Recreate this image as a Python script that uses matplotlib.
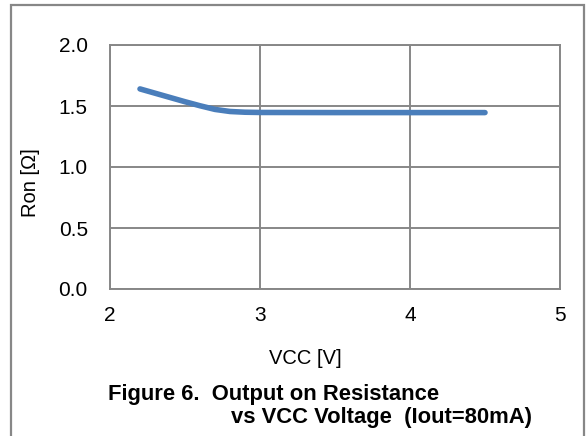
import matplotlib
matplotlib.use("Agg")
import matplotlib.pyplot as plt
from matplotlib.patches import Rectangle

vcc = [2.2, 2.3, 2.4, 2.5, 2.6, 2.7, 2.8, 2.9, 3.0, 3.5, 4.0, 4.5]
ron = [1.64, 1.605, 1.57, 1.535, 1.502, 1.472, 1.455, 1.449, 1.447, 1.446, 1.446, 1.446]
xticks = [2, 3, 4, 5]
yticks = [0.0, 0.5, 1.0, 1.5, 2.0]

plt.rcParams['font.family'] = ['Liberation Sans', 'DejaVu Sans']
W, H = 587, 436
fig = plt.figure(figsize=(W/100, H/100), dpi=100)

# outer frame
fig.patches.append(Rectangle((10.5/W, -0.05), (584-10.5)/W, (H-5.5)/H + 0.05,
                             transform=fig.transFigure, fill=False,
                             edgecolor='#878787', linewidth=1.6, zorder=0))

ax = fig.add_axes([110/W, 1-289/H, (560-110)/W, (289-45)/H])
grid_c = '#878787'
ax.plot(vcc, ron, color='#4a7ebb', linewidth=4, solid_capstyle='round',
        solid_joinstyle='round', zorder=3)
ax.set_xlim(2, 5)
ax.set_ylim(0, 2.0)
ax.set_xticks(xticks)
ax.set_yticks(yticks)
ax.set_xticklabels([str(t) for t in xticks])
ax.set_yticklabels([f"{t:.1f}" for t in yticks])
ax.grid(True, color=grid_c, linewidth=1.4)
ax.set_axisbelow(True)
for s in ax.spines.values():
    s.set_color(grid_c)
    s.set_linewidth(1.4)
ax.tick_params(length=0, labelsize=15)
ax.tick_params(axis='y', pad=16)
ax.tick_params(axis='x', pad=12)
ax.set_xlabel('VCC [V]', fontsize=14.5, va='center', ha='center')
ax.xaxis.set_label_coords(305/W, 1-358/H, transform=fig.transFigure)
ax.set_ylabel('Ron [Ω]', fontsize=14.5, va='center', ha='center')
ax.yaxis.set_label_coords(30/W, 1-183/H, transform=fig.transFigure)

fig.text(108/W, 1-394/H, 'Figure 6.  Output on Resistance', fontsize=15.8,
         fontweight='bold', ha='left', va='center')
fig.text(532/W, 1-417/H, 'vs VCC Voltage  (Iout=80mA)', fontsize=15.8,
         fontweight='bold', ha='right', va='center')

fig.savefig('out.png', dpi=100)
